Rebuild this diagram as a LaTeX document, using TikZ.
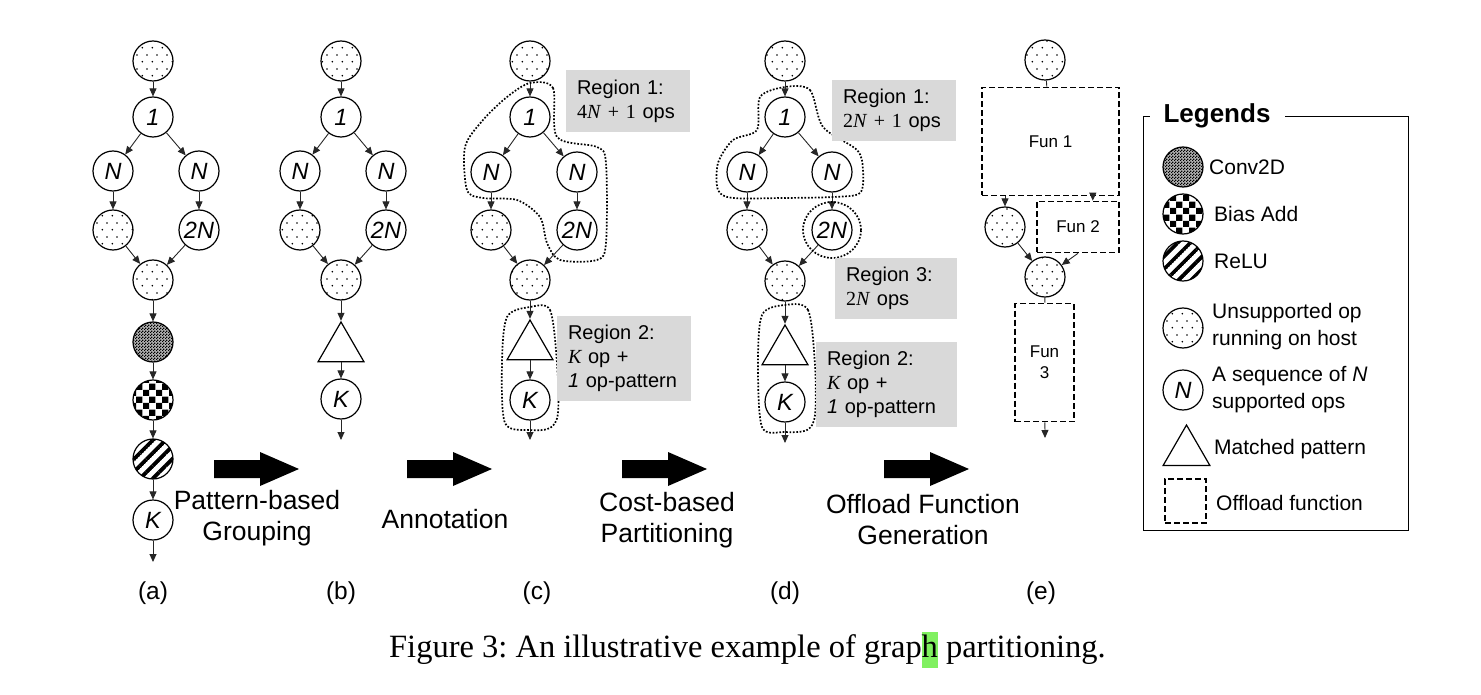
\documentclass[tikz,border=0pt]{standalone}
\usepackage{fontspec}
\setmainfont{Liberation Sans}
\newfontfamily\capfont{Liberation Serif}
\newfontfamily\formulafont{Liberation Serif}
\usetikzlibrary{shapes.geometric,arrows.meta,patterns.meta}

\definecolor{markgreen}{RGB}{128,240,96}
\newcommand\opfont{\fontsize{23.5}{23.5}\selectfont\itshape}

\tikzdeclarepattern{
  name=hostdots,
  type=uncolored,
  bounding box={(0pt,0pt) and (10pt,14pt)},
  tile size={(10pt,14pt)},
  code={
    \fill (2.5pt,3.5pt) circle (0.95pt);
    \fill (7.5pt,10.5pt) circle (0.95pt);
  }
}
\tikzdeclarepattern{
  name=convgrain,
  type=uncolored,
  bounding box={(0pt,0pt) and (2.6pt,2.6pt)},
  tile size={(2.6pt,2.6pt)},
  code={
    \fill (0pt,0pt) rectangle (1.3pt,1.3pt);
    \fill (1.3pt,1.3pt) rectangle (2.6pt,2.6pt);
  }
}
\tikzdeclarepattern{
  name=biascheck,
  type=uncolored,
  bounding box={(0pt,0pt) and (13pt,13pt)},
  tile size={(13pt,13pt)},
  code={
    \fill (0pt,0pt) rectangle (6.5pt,6.5pt);
    \fill (6.5pt,6.5pt) rectangle (13pt,13pt);
  }
}
\tikzdeclarepattern{
  name=relustripes,
  type=uncolored,
  bounding box={(0pt,-1.9pt) and (9pt,1.9pt)},
  tile size={(9pt,9pt)},
  tile transformation={rotate=45},
  code={
    \fill (0pt,-1.9pt) rectangle (9pt,1.9pt);
  }
}

\begin{document}
\frenchspacing
\begin{tikzpicture}
    [x=1pt,y=-1pt,
     opstyle/.style={circle,draw=black,line width=1.2pt,minimum size=40pt,inner sep=0pt,font=\opfont},
     hoststyle/.style={opstyle,pattern=hostdots},
     convstyle/.style={opstyle,preaction={fill=black!30},pattern=convgrain},
     biasstyle/.style={opstyle,pattern=biascheck},
     relustyle/.style={opstyle,pattern=relustripes},
     patternstyle/.style={regular polygon,regular polygon sides=3,draw=black,line width=1.2pt,minimum size=53pt,inner sep=0pt},
     funstyle/.style={draw=black,line width=1.6pt,dash pattern=on 6pt off 3pt,inner sep=0pt,align=center,font=\fontsize{17}{21}\selectfont},
     flowstyle/.style={draw=black!85,line width=0.9pt,-{Triangle[length=8pt,width=7pt]}},
     linkstyle/.style={draw=black!85,line width=0.9pt},
     regionline/.style={draw=black,line width=1.7pt,dash pattern=on 1.7pt off 1.7pt},
     regionbox/.style={fill=black!15,inner xsep=11pt,inner ysep=0pt,align=left,font=\fontsize{20}{24}\selectfont},
     stagestyle/.style={align=center,font=\fontsize{26.5}{31}\selectfont},
     sublabel/.style={font=\fontsize{24.5}{24.5}\selectfont},
     legendtext/.style={anchor=west,inner sep=0pt,align=left,font=\fontsize{21}{27}\selectfont}]

    \useasboundingbox (0,0) rectangle (1481,695);

    % (a) input graph
    \node[hoststyle] (a0) at (153,61) {};
    \node[opstyle] (a1) at (153,117) {1};
    \node[opstyle] (aNl) at (113,171) {N};
    \node[opstyle] (aNr) at (199,171) {N};
    \node[hoststyle] (aHl) at (113,230) {};
    \node[opstyle] (a2N) at (199,230) {2N};
    \node[hoststyle] (aM) at (153,280) {};
    \node[convstyle] (aConv) at (153,342) {};
    \node[biasstyle] (aBias) at (153,400) {};
    \node[relustyle] (aRelu) at (153,459) {};
    \node[opstyle] (aK) at (153,520) {K};
    \coordinate (aEnd) at (153,562);

    \draw[flowstyle] (a0) -- (a1);
    \draw[flowstyle] (a1) -- (aNl);
    \draw[flowstyle] (a1) -- (aNr);
    \draw[flowstyle] (aNl) -- (aHl);
    \draw[flowstyle] (aNr) -- (a2N);
    \draw[flowstyle] (aHl) -- (aM);
    \draw[flowstyle] (a2N) -- (aM);
    \draw[flowstyle] (aM) -- (aConv);
    \draw[flowstyle] (aConv) -- (aBias);
    \draw[flowstyle] (aBias) -- (aRelu);
    \draw[flowstyle] (aRelu) -- (aK);
    \draw[flowstyle] (aK) -- (aEnd);

    % (b) grouped
    \node[hoststyle] (b0) at (341,61) {};
    \node[opstyle] (b1) at (341,117) {1};
    \node[opstyle] (bNl) at (300,171) {N};
    \node[opstyle] (bNr) at (386,171) {N};
    \node[hoststyle] (bHl) at (300,230) {};
    \node[opstyle] (b2N) at (386,230) {2N};
    \node[hoststyle] (bM) at (341,280) {};
    \node[patternstyle] (bT) at (341,348.5) {};
    \node[opstyle] (bK) at (341,399) {K};
    \coordinate (bEnd) at (341,440);

    \draw[flowstyle] (b0) -- (b1);
    \draw[flowstyle] (b1) -- (bNl);
    \draw[flowstyle] (b1) -- (bNr);
    \draw[flowstyle] (bNl) -- (bHl);
    \draw[flowstyle] (bNr) -- (b2N);
    \draw[flowstyle] (bHl) -- (bM);
    \draw[flowstyle] (b2N) -- (bM);
    \draw[flowstyle] (bM) -- (bT);
    \draw[flowstyle] (bT) -- (bK);
    \draw[flowstyle] (bK) -- (bEnd);

    % (c) annotated
    \node[hoststyle] (c0) at (530,61) {};
    \node[opstyle] (c1) at (530,117) {1};
    \node[opstyle] (cNl) at (491,172) {N};
    \node[opstyle] (cNr) at (577,172) {N};
    \node[hoststyle] (cHl) at (491,230) {};
    \node[opstyle] (c2N) at (577,230) {2N};
    \node[hoststyle] (cM) at (530,280) {};
    \node[patternstyle] (cT) at (530,346.5) {};
    \node[opstyle] (cK) at (530,400) {K};
    \coordinate (cEnd) at (530,440);

    \draw[flowstyle] (c0) -- (c1);
    \draw[flowstyle] (c1) -- (cNl);
    \draw[flowstyle] (c1) -- (cNr);
    \draw[flowstyle] (cNl) -- (cHl);
    \draw[flowstyle] (cNr) -- (c2N);
    \draw[flowstyle] (cHl) -- (cM);
    \draw[flowstyle] (c2N) -- (cM);
    \draw[flowstyle] (cM) -- (cT);
    \draw[flowstyle] (cT) -- (cK);
    \draw[flowstyle] (cK) -- (cEnd);

    \draw[regionline] plot[smooth cycle] coordinates {(530,83) (553,88) (557,137) (597,147) (606,163) (606,243) (597,260) (560,260) (547,243) (540,217) (517,200) (483,198) (467,190) (465,147) (483,120) (507,97)};
    \draw[regionline] plot[smooth cycle] coordinates {(530,307) (550,310) (557,363) (558,413) (550,428) (530,430) (505,423) (502,363) (507,317)};

    \node[regionbox,text width=102pt,minimum height=62pt] (cReg1) at (628,101.5) {Region 1:\\{\formulafont 4\textit{N} + 1} ops};
    \node[regionbox,text width=112pt,minimum height=85pt] (cReg2) at (624,358.5) {Region 2:\\{\formulafont\itshape K} op +\\\textit{1} op-pattern};

    % (d) partitioned
    \node[hoststyle] (d0) at (785,61) {};
    \node[opstyle] (d1) at (785,117) {1};
    \node[opstyle] (dNl) at (747,172) {N};
    \node[opstyle] (dNr) at (832,172) {N};
    \node[hoststyle] (dHl) at (747,230) {};
    \node[opstyle] (d2N) at (832,230) {2N};
    \node[hoststyle] (dM) at (785,281) {};
    \node[patternstyle] (dT) at (785,351.5) {};
    \node[opstyle] (dK) at (785,402) {K};
    \coordinate (dEnd) at (785,443);

    \draw[flowstyle] (d0) -- (d1);
    \draw[flowstyle] (d1) -- (dNl);
    \draw[flowstyle] (d1) -- (dNr);
    \draw[flowstyle] (dNl) -- (dHl);
    \draw[flowstyle] (dNr) -- (d2N);
    \draw[flowstyle] (dHl) -- (dM);
    \draw[flowstyle] (d2N) -- (dM);
    \draw[flowstyle] (dM) -- (dT);
    \draw[flowstyle] (dT) -- (dK);
    \draw[flowstyle] (dK) -- (dEnd);

    \draw[regionline] plot[smooth cycle] coordinates {(785,87) (810,90) (823,127) (857,150) (863,170) (860,193) (833,197) (783,198) (733,198) (718,190) (718,163) (733,140) (757,130) (760,97)};
    \draw[regionline] (d2N.center) ellipse [x radius=29pt, y radius=28pt];
    \draw[regionline] plot[smooth cycle] coordinates {(785,305) (808,310) (815,365) (815,415) (807,430) (785,432) (762,427) (758,365) (762,315)};

    \node[regionbox,text width=102pt,minimum height=61pt] (dReg1) at (894,110.5) {Region 1:\\{\formulafont 2\textit{N} + 1} ops};
    \node[regionbox,text width=100pt,minimum height=61pt] (dReg3) at (896,288.5) {Region 3:\\{\formulafont 2\textit{N}} ops};
    \node[regionbox,text width=119pt,minimum height=85pt] (dReg2) at (886.5,384.5) {Region 2:\\{\formulafont\itshape K} op +\\\textit{1} op-pattern};

    % (e) offload functions
    \node[hoststyle] (e0) at (1045,60) {};
    \node[funstyle,minimum width=137pt,minimum height=108pt] (eFun1) at (1050.5,141.5) {Fun 1};
    \node[hoststyle] (eHl) at (1005,227) {};
    \node[funstyle,minimum width=82pt,minimum height=51pt] (eFun2) at (1078,227) {Fun 2};
    \node[hoststyle] (eM) at (1045,277) {};
    \node[funstyle,minimum width=59pt,minimum height=118pt] (eFun3) at (1044.5,362.5) {Fun\\3};
    \coordinate (eEnd) at (1045,438);

    \draw[linkstyle] (e0) -- (eFun1);
    \draw[flowstyle] (eFun1.south -| eHl) -- (eHl);
    \draw[flowstyle] ([xshift=-27pt]eFun1.south east) -- ([xshift=-27pt]eFun2.north east);
    \draw[flowstyle] (eHl) -- (eM);
    \draw[flowstyle] (eFun2.south) -- (eM);
    \draw[linkstyle] (eM) -- (eFun3);
    \draw[flowstyle] (eFun3) -- (eEnd);

    % stage arrows and labels
    \foreach \ax in {214,407,622,884}
      \fill (\ax,460) -- ++(46,0) -- ++(0,-8) -- ++(39,17) -- ++(-39,17) -- ++(0,-8) -- ++(-46,0) -- cycle;

    \node[stagestyle] (stage1) at (257,518) {Pattern-based\\Grouping};
    \node[stagestyle] (stage2) at (445,519) {Annotation};
    \node[stagestyle] (stage3) at (667,520) {Cost-based\\Partitioning};
    \node[stagestyle] (stage4) at (923,520) {Offload Function\\Generation};

    \node[sublabel] (labela) at (153,593) {(a)};
    \node[sublabel] (labelb) at (341,593) {(b)};
    \node[sublabel] (labelc) at (537,593) {(c)};
    \node[sublabel] (labeld) at (785,593) {(d)};
    \node[sublabel] (labele) at (1041,593) {(e)};

    % legend
    \draw[line width=1pt] (1285,117) -- (1408,117) -- (1408,530) -- (1143,530) -- (1143,117) -- (1150,117);
    \node[font=\bfseries\fontsize{26}{26}\selectfont] (lgTitle) at (1217,116) {Legends};

    \node[convstyle] (lgConv) at (1183,167) {};
    \node[legendtext] (lgConvText) at (1209,167) {Conv2D};
    \node[biasstyle] (lgBias) at (1183,214) {};
    \node[legendtext] (lgBiasText) at (1214,214) {Bias Add};
    \node[relustyle] (lgRelu) at (1183,261) {};
    \node[legendtext] (lgReluText) at (1214,261) {ReLU};
    \node[hoststyle] (lgHost) at (1183,328) {};
    \node[legendtext] (lgHostText) at (1212,327) {Unsupported op\\running on host};
    \node[opstyle] (lgN) at (1183,390) {N};
    \node[legendtext] (lgNText) at (1212,390) {A sequence of \textit{N}\\supported ops};
    \node[patternstyle,minimum size=54pt] (lgPat) at (1186.5,452) {};
    \node[legendtext] (lgPatText) at (1214,449) {Matched pattern};
    \node[funstyle,minimum width=41pt,minimum height=44pt] (lgFun) at (1185.5,501) {};
    \node[legendtext] (lgFunText) at (1216,503) {Offload function};

    % caption
    \node[font=\capfont\fontsize{32.5}{36}\selectfont,anchor=base] (caption) at (747.5,657)
      {Figure 3: An illustrative example of grap{\setlength\fboxsep{0pt}\colorbox{markgreen}{\strut h}} partitioning.};
\end{tikzpicture}
\end{document}
